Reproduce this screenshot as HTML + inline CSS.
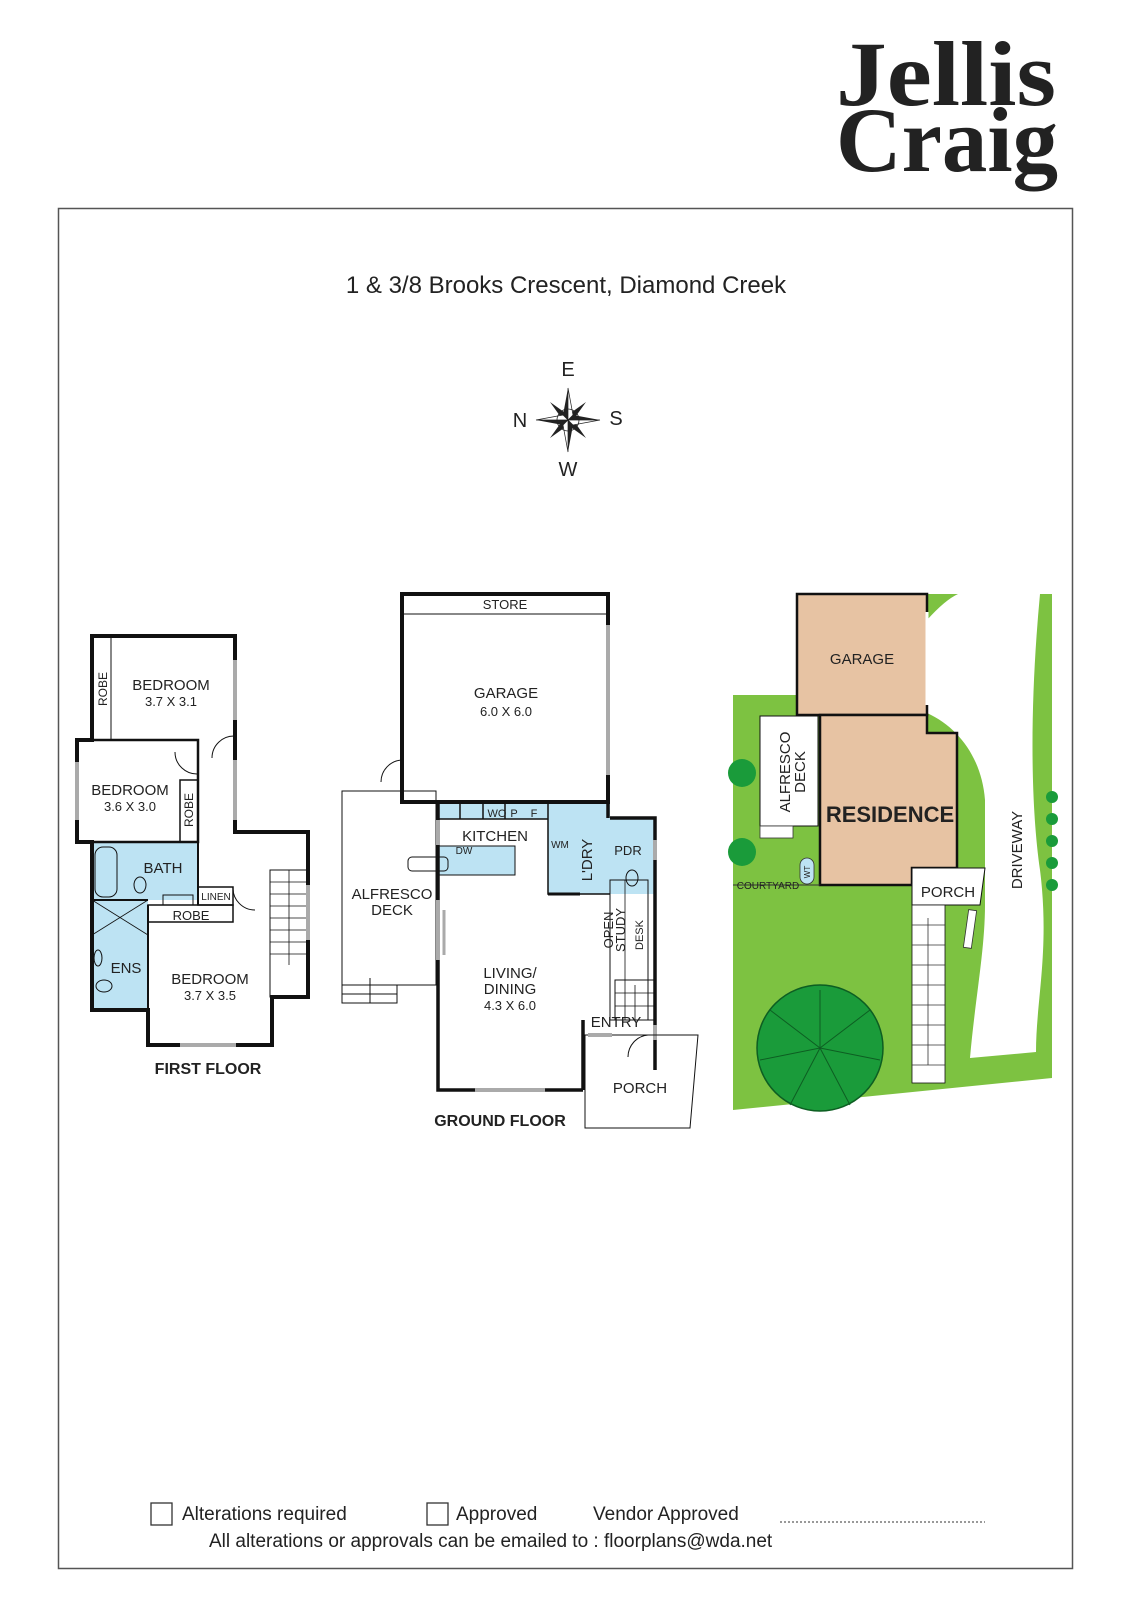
<!DOCTYPE html>
<html><head><meta charset="utf-8"><style>
html,body{margin:0;padding:0;background:#fff}
svg{display:block}
text{font-family:"Liberation Sans",sans-serif;fill:#222}
</style></head><body>
<svg width="1131" height="1600" viewBox="0 0 1131 1600" xmlns="http://www.w3.org/2000/svg">
<!-- Logo -->
<text x="836" y="105" font-weight="bold" font-size="92" textLength="220" lengthAdjust="spacingAndGlyphs" style="font-family:'Liberation Serif',serif" fill="#1a1a1a">Jellis</text>
<text x="836" y="171" font-weight="bold" font-size="92" textLength="222" lengthAdjust="spacingAndGlyphs" style="font-family:'Liberation Serif',serif" fill="#1a1a1a">Craig</text>
<!-- frame -->
<rect x="58.5" y="208.5" width="1014" height="1360" fill="none" stroke="#555" stroke-width="1.5"/>
<text x="566" y="293" font-size="24" text-anchor="middle">1 &amp; 3/8 Brooks Crescent, Diamond Creek</text>
<!-- compass -->
<g transform="translate(568,420)">
<polygon points="0,-32 5,-5 32,0 5,5 0,32 -5,5 -32,0 -5,-5" fill="#222"/>
<polygon points="-18,-18 3,-3 18,18 -3,3" fill="#222"/>
<polygon points="18,-18 3,3 -18,18 -3,-3" fill="#222"/>
<polygon points="0,-32 5,-5 0,0" fill="#fff" stroke="#222" stroke-width="0.7"/>
<polygon points="32,0 5,5 0,0" fill="#fff" stroke="#222" stroke-width="0.7"/>
<polygon points="0,32 -5,5 0,0" fill="#fff" stroke="#222" stroke-width="0.7"/>
<polygon points="-32,0 -5,-5 0,0" fill="#fff" stroke="#222" stroke-width="0.7"/>
<circle r="11" fill="none" stroke="#222" stroke-width="0.8"/>
</g>
<text x="568" y="376" font-size="20" text-anchor="middle">E</text>
<text x="568" y="476" font-size="20" text-anchor="middle">W</text>
<text x="520" y="427" font-size="20" text-anchor="middle">N</text>
<text x="616" y="425" font-size="20" text-anchor="middle">S</text>

<!-- FIRST FLOOR -->
<g fill="none" stroke="#111">
<rect x="92" y="842" width="106" height="58" fill="#bde3f3" stroke="none"/>
<rect x="92" y="900" width="56" height="110" fill="#bde3f3" stroke="none"/>
<path d="M92,636 H235 V832 H308 V997 H272 V1045 H148 V1010 H92 V842 H77 V740 H92 Z" stroke-width="4"/>
<path d="M92,740 H198 V842 H77" stroke-width="2.5"/>
<line x1="111" y1="636" x2="111" y2="740" stroke-width="1"/>
<rect x="180" y="780" width="18" height="62" stroke-width="1.5"/>
<line x1="198" y1="842" x2="198" y2="905" stroke-width="2"/>
<line x1="148" y1="905" x2="148" y2="1010" stroke-width="2"/>
<line x1="92" y1="900" x2="148" y2="900" stroke-width="2"/>
<line x1="92" y1="842" x2="92" y2="1010" stroke-width="4"/>
<rect x="148" y="905" width="85" height="17" stroke-width="1.5"/>
<rect x="198" y="887" width="35" height="18" stroke-width="1.5"/>
<rect x="95" y="847" width="22" height="50" rx="8" stroke-width="1"/>
<ellipse cx="140" cy="885" rx="6" ry="8" stroke-width="1"/>
<rect x="163" y="895" width="30" height="10" stroke-width="1"/>
<path d="M92,900 L148,935 M148,900 L92,935" stroke-width="0.8"/>
<ellipse cx="98" cy="958" rx="4" ry="8" stroke-width="1"/>
<ellipse cx="104" cy="986" rx="8" ry="6" stroke-width="1"/>
<path d="M235,736 A22,22 0 0 0 212,758" stroke-width="1"/>
<path d="M175,752 A22,22 0 0 0 198,774" stroke-width="1"/>
<path d="M233,887 A22,22 0 0 0 255,910" stroke-width="1"/>
<rect x="270" y="870" width="38" height="127" stroke-width="1"/>
<path d="M270,882H308M270,894H308M270,906H308M270,918H308M270,930H308M270,942H308M270,954H308M289,965V870" stroke-width="0.8"/>
<line x1="235" y1="660" x2="235" y2="720" stroke="#aaa" stroke-width="4"/>
<line x1="235" y1="760" x2="235" y2="820" stroke="#aaa" stroke-width="4"/>
<line x1="77" y1="762" x2="77" y2="820" stroke="#aaa" stroke-width="4"/>
<line x1="308" y1="885" x2="308" y2="940" stroke="#aaa" stroke-width="4"/>
<line x1="180" y1="1045" x2="236" y2="1045" stroke="#aaa" stroke-width="4"/>
</g>
<g font-size="15" text-anchor="middle">
<text x="171" y="690">BEDROOM</text><text x="171" y="706" font-size="13">3.7 X 3.1</text>
<text x="130" y="795">BEDROOM</text><text x="130" y="811" font-size="13">3.6 X 3.0</text>
<text x="163" y="873">BATH</text>
<text x="126" y="973">ENS</text>
<text x="210" y="984">BEDROOM</text><text x="210" y="1000" font-size="13">3.7 X 3.5</text>
<text x="191" y="920" font-size="13">ROBE</text>
<text x="216" y="900" font-size="10">LINEN</text>
<text transform="translate(107,689) rotate(-90)" font-size="12">ROBE</text>
<text transform="translate(193,810) rotate(-90)" font-size="12">ROBE</text>
<text x="208" y="1074" font-weight="bold" font-size="16">FIRST FLOOR</text>
</g>

<!-- GROUND FLOOR -->
<g fill="none" stroke="#111">
<rect x="438" y="802" width="110" height="17" fill="#bde3f3" stroke="none"/>
<rect x="548" y="802" width="62" height="92" fill="#bde3f3" stroke="none"/>
<rect x="610" y="818" width="45" height="76" fill="#bde3f3" stroke="none"/>
<rect x="438" y="846" width="77" height="29" fill="#bde3f3" stroke-width="1"/>
<path d="M402,594 H608 V802 H402 Z" stroke-width="4"/>
<line x1="402" y1="614" x2="608" y2="614" stroke-width="1"/>
<line x1="608" y1="625" x2="608" y2="775" stroke="#aaa" stroke-width="4"/>
<path d="M402,760 A22,22 0 0 0 381,782" stroke-width="1"/>
<path d="M438,802 V1090 H583 M610,818 H655 V1070" stroke-width="3.5"/>
<line x1="583" y1="1090" x2="583" y2="1020" stroke-width="3.5"/>
<line x1="608" y1="802" x2="608" y2="818" stroke-width="3.5"/>
<polygon points="342,791 436,791 436,985 342,985" stroke-width="1"/>
<rect x="342" y="985" width="55" height="18" stroke-width="1"/>
<line x1="342" y1="994" x2="397" y2="994" stroke-width="1"/>
<line x1="370" y1="1003" x2="370" y2="978" stroke-width="1"/>
<path d="M438,819 H548 M460,802V819 M483,802V819 M505,802V819 M548,802 V894 H610" stroke-width="1.5"/>
<path d="M548,894 H580" stroke-width="3"/>
<rect x="408" y="857" width="40" height="14" rx="4" stroke-width="1"/>
<rect x="610" y="880" width="38" height="140" stroke-width="1"/>
<path d="M625,880 V1020" stroke-width="0.8"/>
<ellipse cx="632" cy="878" rx="6" ry="8" stroke-width="1"/>
<rect x="615" y="980" width="40" height="40" stroke-width="1"/>
<path d="M615,993H655M615,1006H655M635,1020V985" stroke-width="0.8"/>
<line x1="438" y1="820" x2="438" y2="845" stroke="#aaa" stroke-width="4"/>
<line x1="438" y1="900" x2="438" y2="960" stroke="#aaa" stroke-width="4"/>
<line x1="444" y1="910" x2="444" y2="955" stroke="#aaa" stroke-width="3"/>
<line x1="475" y1="1090" x2="545" y2="1090" stroke="#aaa" stroke-width="4"/>
<line x1="655" y1="840" x2="655" y2="860" stroke="#aaa" stroke-width="4"/>
<line x1="655" y1="1025" x2="655" y2="1040" stroke="#aaa" stroke-width="4"/>
<polygon points="585,1035 698,1035 690,1128 585,1128" stroke-width="1"/>
<path d="M648,1035 A22,22 0 0 0 628,1057" stroke-width="1"/>
<line x1="588" y1="1035" x2="612" y2="1035" stroke="#aaa" stroke-width="4"/>
</g>
<g font-size="15" text-anchor="middle">
<text x="505" y="609" font-size="13">STORE</text>
<text x="506" y="698">GARAGE</text><text x="506" y="716" font-size="13">6.0 X 6.0</text>
<text x="495" y="841">KITCHEN</text>
<text x="464" y="854" font-size="10">DW</text>
<text x="392" y="899">ALFRESCO</text><text x="392" y="915">DECK</text>
<text x="510" y="978">LIVING/</text><text x="510" y="994">DINING</text><text x="510" y="1010" font-size="13">4.3 X 6.0</text>
<text x="616" y="1027">ENTRY</text>
<text x="640" y="1093">PORCH</text>
<text x="497" y="817" font-size="11">WO</text><text x="514" y="817" font-size="11">P</text><text x="534" y="817" font-size="11">F</text>
<text x="560" y="848" font-size="10">WM</text>
<text x="628" y="855" font-size="13">PDR</text>
<text transform="translate(592,860) rotate(-90)" font-size="15">L'DRY</text>
<text transform="translate(613,930) rotate(-90)" font-size="13">OPEN</text>
<text transform="translate(625,930) rotate(-90)" font-size="13">STUDY</text>
<text transform="translate(643,935) rotate(-90)" font-size="11">DESK</text>
<text x="500" y="1126" font-weight="bold" font-size="16">GROUND FLOOR</text>
</g>

<!-- SITE PLAN -->
<polygon points="733,695 797,695 797,594 1052,594 1052,1078 733,1110" fill="#7dc241"/>
<path d="M927,620 Q945,600 958,594 H1040 C1030,700 1030,800 1040,870 C1050,950 1036,1000 1036,1052 L970,1058 C975,1000 985,950 985,905 L985,800 C982,760 960,728 927,713 Z" fill="#fff"/>
<rect x="797" y="594" width="130" height="121" fill="#e7c3a3" stroke="#111" stroke-width="2.5"/>
<polygon points="820,715 927,715 927,733 957,733 957,868 912,868 912,885 820,885" fill="#e7c3a3" stroke="#111" stroke-width="2.5"/>
<line x1="927" y1="612" x2="927" y2="705" stroke="#fff" stroke-width="3"/>
<polygon points="912,868 985,868 980,905 912,905" fill="#fff" stroke="#111" stroke-width="1"/>
<rect x="912" y="905" width="33" height="178" fill="#fff" stroke="#111" stroke-width="0.8"/>
<path d="M912,925H945M912,945H945M912,965H945M912,985H945M912,1005H945M912,1025H945M912,1045H945M912,1065H945M928,1065V918" stroke="#333" stroke-width="0.8"/>
<rect x="966" y="910" width="8" height="38" fill="#fff" stroke="#333" stroke-width="0.8" transform="rotate(8 970 929)"/>
<rect x="760" y="716" width="58" height="110" fill="#fff" stroke="#111" stroke-width="1"/>
<rect x="760" y="826" width="33" height="12" fill="#fff" stroke="#333" stroke-width="0.8"/>
<path d="M733,885 H820" stroke="#333" stroke-width="1"/>
<rect x="800" y="858" width="14" height="26" rx="7" fill="#bde3f3" stroke="#333" stroke-width="0.8"/>
<circle cx="742" cy="773" r="14" fill="#1a9b3a"/>
<circle cx="742" cy="852" r="14" fill="#1a9b3a"/>
<g fill="#1a9b3a"><circle cx="1052" cy="797" r="6"/><circle cx="1052" cy="819" r="6"/><circle cx="1052" cy="841" r="6"/><circle cx="1052" cy="863" r="6"/><circle cx="1052" cy="885" r="6"/></g>
<circle cx="820" cy="1048" r="63" fill="#1a9b3a" stroke="#0d5e22" stroke-width="1.5"/>
<g stroke="#0d5e22" stroke-width="1" fill="none"><path d="M820,1048 L770,1010 M820,1048 L870,1010 M820,1048 L820,990 M820,1048 L760,1060 M820,1048 L880,1060 M820,1048 L790,1105 M820,1048 L850,1105"/></g>
<g font-size="15" text-anchor="middle">
<text x="862" y="664">GARAGE</text>
<text x="890" y="822" font-weight="bold" font-size="22">RESIDENCE</text>
<text x="948" y="897">PORCH</text>
<text x="768" y="889" font-size="10">COURTYARD</text>
<text transform="translate(810,872) rotate(-90)" font-size="8">WT</text>
<text transform="translate(790,772) rotate(-90)">ALFRESCO</text>
<text transform="translate(805,772) rotate(-90)">DECK</text>
<text transform="translate(1022,850) rotate(-90)">DRIVEWAY</text>
</g>

<!-- footer -->
<rect x="151" y="1503" width="21" height="22" fill="none" stroke="#333" stroke-width="1.3"/>
<rect x="427" y="1503" width="21" height="22" fill="none" stroke="#333" stroke-width="1.3"/>
<g font-size="19">
<text x="182" y="1520">Alterations required</text>
<text x="456" y="1520">Approved</text>
<text x="593" y="1520">Vendor Approved</text>
<text x="209" y="1547">All alterations or approvals can be emailed to : floorplans@wda.net</text>
</g>
<line x1="780" y1="1522" x2="985" y2="1522" stroke="#333" stroke-width="1" stroke-dasharray="2,2"/>
</svg>
</body></html>
